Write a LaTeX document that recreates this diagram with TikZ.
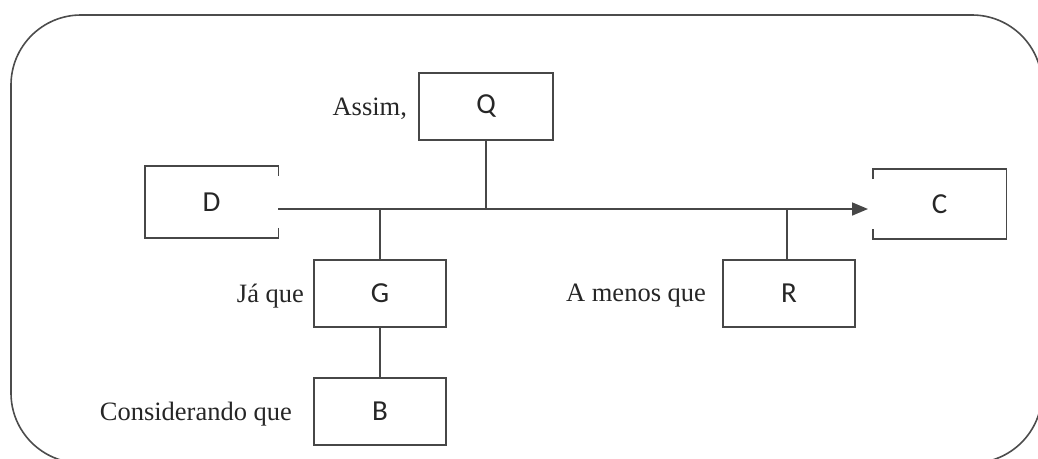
\documentclass[tikz,border=0pt]{standalone}
\usepackage{fontspec}
\setmainfont{Liberation Serif}
\newfontfamily\boxfont{Carlito}
\usetikzlibrary{arrows.meta}
\begin{document}
\begin{tikzpicture}[x=1pt,y=-1pt,
  ink/.style={draw=black!72,line width=1.7pt},
  claim/.style={ink,rectangle,inner sep=0pt,minimum width=132pt,minimum height=67pt,
    font=\boxfont\fontsize{29}{32}\selectfont,text=black!85},
  openbox/.style={claim,draw=none},
  lead/.style={anchor=base east,inner sep=0pt,font=\fontsize{26.5}{30}\selectfont,text=black!85},
  link/.style={ink},
  arrowlink/.style={ink,-{Triangle[length=16pt,width=13pt]}}]
\useasboundingbox (0,0) rectangle (1038,458);
\begin{scope}
  \clip (0,0) rectangle (1038,458);
  \draw[draw=black!70,line width=1.6pt,rounded corners=70pt] (11,15) rectangle (1042,463);
\end{scope}

% claim boxes
\node[claim,minimum width=134pt] (Q) at (486,106.5) {Q};
\node[openbox,minimum height=70pt] (D) at (211.5,202) {D};
\node[openbox,minimum height=68pt] (C) at (939.5,204) {C};
\node[claim] (G) at (380,293.5) {G};
\node[claim] (R) at (789,293.5) {R};
\node[claim] (B) at (380,411.5) {B};

% D: right side only has short ends
\draw[ink] ([yshift=10pt]D.south east) -- (D.south east) -- (D.south west)
  -- (D.north west) -- (D.north east) -- ([yshift=-10pt]D.north east);
% C: left side only has short ends
\draw[ink] ([yshift=-10pt]C.north west) -- (C.north west) -- (C.north east)
  -- (C.south east) -- (C.south west) -- ([yshift=10pt]C.south west);

% main line of the argument
\coordinate (m) at (0,209);
\coordinate (tip) at (868,209);
\draw[arrowlink] (D.east |- m) -- (tip);

% stems joining the other boxes
\draw[link] (Q.south) -- (Q.south |- m);
\draw[link] (G.north) -- (G.north |- m);
\draw[link] ([xshift=-2pt]R.north) -- ([xshift=-2pt]R.north |- m);
\draw[link] (G.south) -- (B.north);

% connective words (canvas yshift points up, so negative moves down)
\node[lead] (lq) at ([xshift=-11pt,yshift=-9pt]Q.west) {Assim,};
\node[lead] (lg) at ([xshift=-9pt,yshift=-9pt]G.west) {Já que};
\node[lead] (lr) at ([xshift=-16pt,yshift=-8pt]R.west) {A menos que};
\node[lead] (lb) at ([xshift=-21pt,yshift=-9pt]B.west) {Considerando que};
\end{tikzpicture}
\end{document}
